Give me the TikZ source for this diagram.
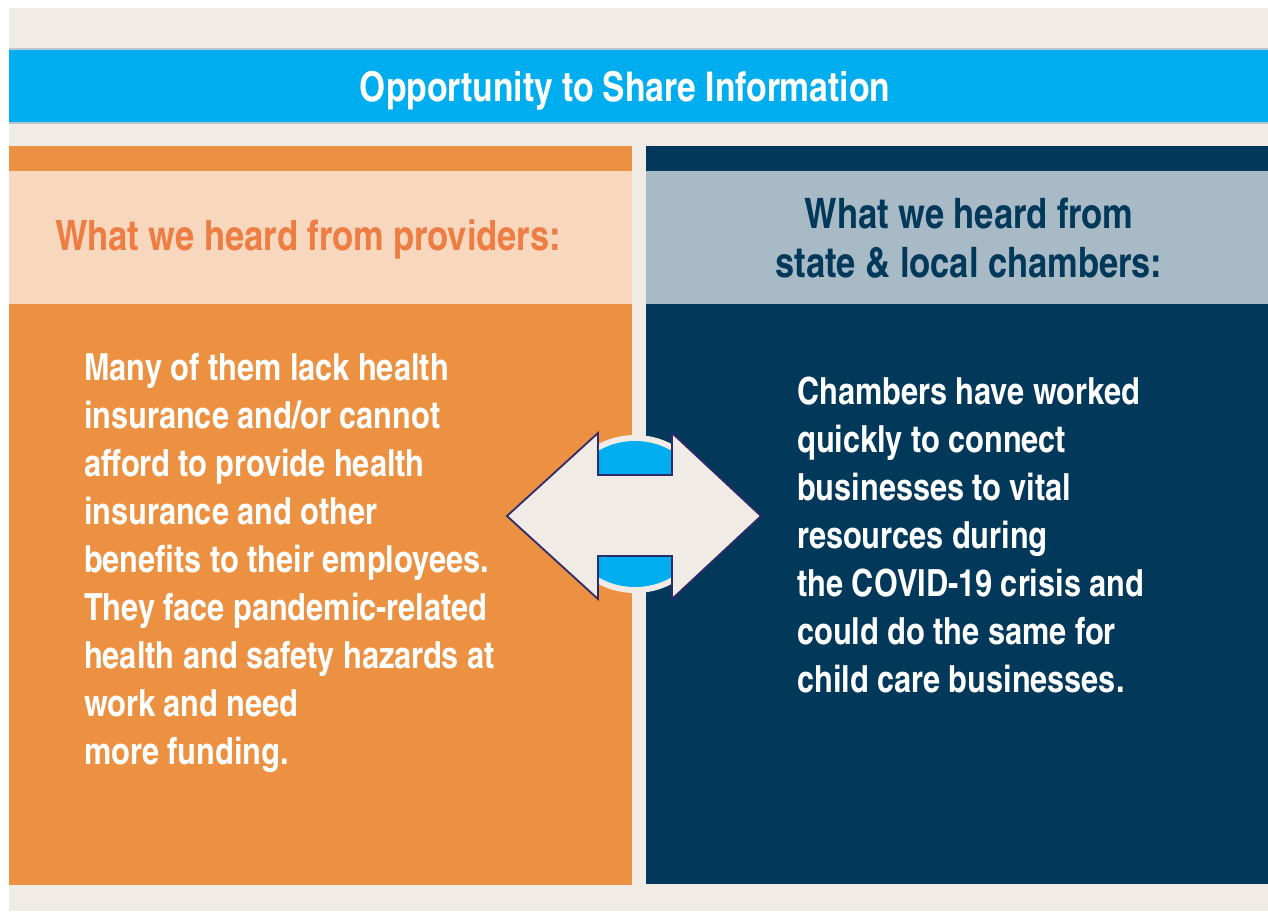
\documentclass[tikz,border=0pt]{standalone}
\usepackage{fontspec}
\setmainfont{texgyreheroscn-bold.otf}
\usetikzlibrary{positioning}

\definecolor{paper}{HTML}{F0EBE5}
\definecolor{bandblue}{HTML}{00AEEF}
\definecolor{bandline}{HTML}{B9C6CF}
\definecolor{provorange}{HTML}{EC9142}
\definecolor{provlight}{HTML}{F7D8BE}
\definecolor{provhead}{HTML}{EE7D44}
\definecolor{chamnavy}{HTML}{02385A}
\definecolor{chamlight}{HTML}{A9BAC7}
\definecolor{arrowline}{HTML}{2E2A6B}

\tikzset{
  panel/.style={inner sep=0pt, outer sep=0pt, anchor=north west},
  bodytext/.style={text=white, align=left, inner sep=0pt, anchor=north west,
    font=\fontsize{37.4}{48}\selectfont},
  headtext/.style={align=center, inner sep=0pt,
    font=\fontsize{42}{49}\selectfont},
}

\begin{document}
\begin{tikzpicture}[x=1pt,y=-1pt]
  \useasboundingbox (0,0) rectangle (1268,911);
  % Background:
  \fill [white] (0,0) rectangle (1268,911);
  \node [panel, fill=paper, minimum width=1259pt, minimum height=903pt] (page) at (9,8) {};

  % Title band:
  \node [panel, fill=bandblue, minimum width=1259pt, minimum height=74pt] (band) at (9,49) {};
  \draw [bandline, line width=1.5pt] (band.north west) -- (band.north east);
  \draw [bandline, line width=1.5pt] (band.south west) -- (band.south east);
  \node [headtext, text=white, font=\fontsize{41}{48}\selectfont] (title) at (625,91) {Opportunity to Share Information};

  % Left panel (providers):
  \node [panel, fill=provorange, minimum width=623pt, minimum height=739pt] (prov) at (9,146) {};
  \node [panel, fill=provlight, minimum width=623pt, minimum height=133pt] (provbar) at (9,171) {};
  \node [headtext, text=provhead, anchor=west] (provhead) at (55,239) {What we heard from providers:};
  \node [bodytext] (provtext) at (84,353) {Many of them lack health\\
    insurance and/or cannot\\
    afford to provide health\\
    insurance and other\\
    benefits to their employees.\\
    They face pandemic-related\\
    health and safety hazards at\\
    work and need\\
    more funding.};

  % Right panel (chambers):
  \node [panel, fill=chamnavy, minimum width=622pt, minimum height=738pt] (cham) at (646,146) {};
  \node [panel, fill=chamlight, minimum width=622pt, minimum height=133pt] (chambar) at (646,171) {};
  \node [headtext, text=chamnavy] (chamhead) at (969,238) {What we heard from\\state \& local chambers:};
  \node [bodytext] (chamtext) at (797,377) {Chambers have worked\\
    quickly to connect\\
    businesses to vital\\
    resources during\\
    the COVID-19 crisis and\\
    could do the same for\\
    child care businesses.};

  % Double arrow in the middle, over a ringed circle:
  \coordinate (hub) at (635,514);
  \fill [paper] (hub) circle (79);
  \fill [bandblue] (hub) circle (73);
  \draw [arrowline, line width=1.8pt, fill=paper, line join=miter]
    (507,516) -- (598,433) -- (598,475) -- (672,475) -- (672,433) -- (761,516)
    -- (672,599) -- (672,556) -- (598,556) -- (598,599) -- cycle;
\end{tikzpicture}
\end{document}
